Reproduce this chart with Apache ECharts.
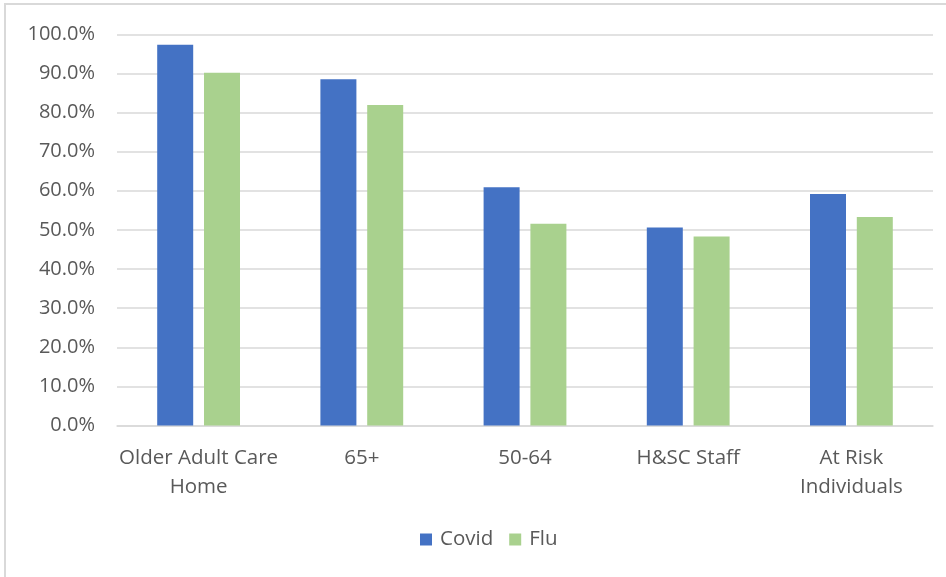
<!DOCTYPE html>
<html>
<head>
<meta charset="utf-8">
<script src="https://cdn.jsdelivr.net/npm/echarts@6/dist/echarts.min.js"></script>
<style>
  html, body { margin: 0; padding: 0; background: #fff; }
  #frame { position: absolute; left: 4px; top: 3px; width: 960px; height: 600px;
           border-top: 2px solid #d9d9d9; border-left: 2px solid #d9d9d9; box-sizing: border-box; }
  #chart { position: absolute; left: 0; top: 0; width: 946px; height: 577px; }
</style>
</head>
<body>
<div id="frame"></div>
<div id="chart"></div>
<script>
const categories = ['Older Adult Care\nHome', '65+', '50-64', 'H&SC Staff', 'At Risk\nIndividuals'];
const covid = [97.3, 88.5, 60.9, 50.6, 59.2];
const flu = [90.2, 81.9, 51.6, 48.3, 53.3];
const seriesNames = ['Covid', 'Flu'];

const chart = echarts.init(document.getElementById('chart'), null, { renderer: 'canvas' });
const font = '"Open Sans", Lato, sans-serif';
chart.setOption({
  backgroundColor: 'transparent',
  animation: false,
  textStyle: { fontFamily: font },
  grid: { left: 117, right: 13, top: 34.3, bottom: 151.5, containLabel: false },
  legend: {
    data: seriesNames,
    bottom: 22,
    left: 415,
    itemWidth: 12, itemHeight: 12, itemGap: 16,
    icon: 'rect',
    textStyle: { fontFamily: font, fontSize: 20.5, color: '#595959', padding: [0, 0, 0, 3] }
  },
  xAxis: {
    type: 'category',
    data: categories,
    axisLine: { show: true, lineStyle: { color: '#d9d9d9', width: 1.5 } },
    axisTick: { show: false },
    axisLabel: { color: '#595959', fontSize: 20.5, lineHeight: 29, margin: 18, interval: 0, fontFamily: font }
  },
  yAxis: {
    type: 'value',
    min: 0, max: 100, interval: 10,
    axisLine: { show: false },
    axisTick: { show: false },
    splitLine: { lineStyle: { color: '#d9d9d9', width: 1.5 } },
    axisLabel: { color: '#595959', fontSize: 20, margin: 22, fontFamily: font,
                 formatter: v => v.toFixed(1) + '%' }
  },
  series: [
    { name: seriesNames[0], type: 'bar', data: covid, barWidth: 36, barGap: '30%',
      itemStyle: { color: '#4472C4' } },
    { name: seriesNames[1], type: 'bar', data: flu, barWidth: 36, barGap: '30%',
      itemStyle: { color: '#A9D18E' } }
  ]
});
</script>
</body>
</html>
